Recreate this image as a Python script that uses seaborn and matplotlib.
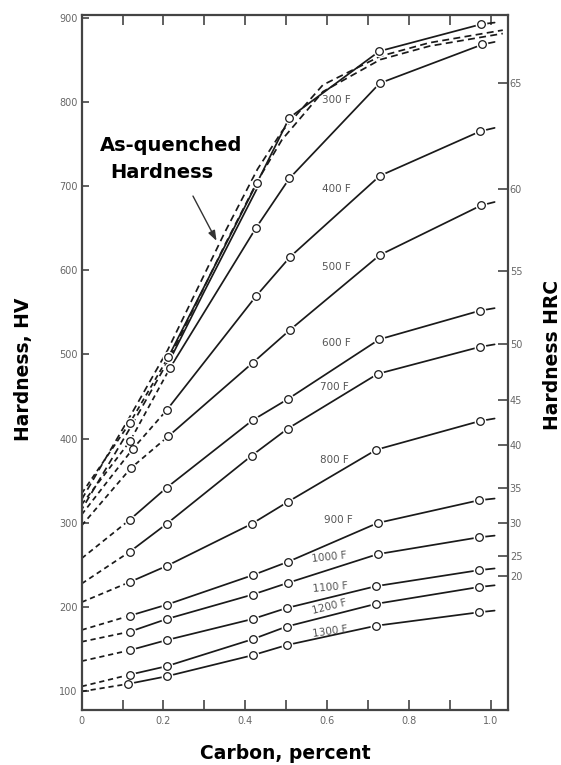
import numpy as np
import pandas as pd
import matplotlib
matplotlib.use("Agg")
import matplotlib.pyplot as plt
import seaborn as sns

# ---------------- data ----------------
curve_names = ["As-quenched", "300 F", "400 F", "500 F", "600 F", "700 F",
               "800 F", "900 F", "1000 F", "1100 F", "1200 F", "1300 F"]

carbon_pts = [
    [0.118, 0.212, 0.428, 0.508, 0.728, 0.977],
    [0.118, 0.216, 0.426, 0.508, 0.729, 0.980],
    [0.125, 0.208, 0.426, 0.510, 0.729, 0.975],
    [0.120, 0.212, 0.418, 0.509, 0.729, 0.977],
    [0.118, 0.208, 0.418, 0.504, 0.728, 0.974],
    [0.118, 0.208, 0.416, 0.504, 0.724, 0.974],
    [0.118, 0.208, 0.416, 0.504, 0.721, 0.974],
    [0.118, 0.208, 0.418, 0.505, 0.724, 0.972],
    [0.118, 0.208, 0.418, 0.505, 0.724, 0.972],
    [0.118, 0.208, 0.418, 0.501, 0.720, 0.972],
    [0.118, 0.208, 0.418, 0.501, 0.720, 0.972],
    [0.114, 0.208, 0.418, 0.501, 0.720, 0.972],
]
hv_pts = [
    [419, 497, 703, 781, 860, 892],
    [397, 484, 650, 709, 822, 868],
    [388, 434, 569, 616, 712, 765],
    [365, 403, 490, 529, 618, 677],
    [304, 342, 422, 447, 518, 552],
    [266, 299, 380, 412, 477, 509],
    [230, 249, 299, 325, 387, 421],
    [190, 203, 238, 254, 300, 327],
    [171, 186, 215, 229, 263, 283],
    [149, 161, 186, 199, 225, 244],
    [120, 130, 162, 177, 204, 224],
    [109, 118, 143, 155, 178, 194],
]
hv_at_zero = [335, 322, 310, 297, 258, 228, 206, 173, 159, 136, 106, 100]
hv_at_end = [894, 871, 769, 681, 555, 512, 424, 329, 285, 246, 226, 196]
carbon_end = 1.01

# extra as-quenched curves (no data circles)
aq_dash_carbon = [0.0, 0.12, 0.21, 0.35, 0.43, 0.49, 0.59, 0.73, 0.85, 1.03]
aq_dash_a_hv = [328, 428, 505, 645, 720, 765, 820, 854, 870, 885]
aq_dash_b_hv = [316, 414, 491, 630, 706, 755, 812, 850, 866, 881]
aq_solid_carbon = [0.21, 0.30, 0.43]
aq_solid_hv = [488, 575, 698]

hv_ticks = [100, 200, 300, 400, 500, 600, 700, 800, 900]
carbon_ticks = [0.0, 0.1, 0.2, 0.3, 0.4, 0.5, 0.6, 0.7, 0.8, 0.9, 1.0]
carbon_ticklabels = ["0", "", "0.2", "", "0.4", "", "0.6", "", "0.8", "", "1.0"]
hrc_labels = ["65", "60", "55", "50", "45", "40", "35", "30", "25", "20"]
hrc_as_hv = [822, 696, 599, 513, 446, 393, 342, 300, 261, 237]

# ---------------- layout / style ----------------
label_xy = [None, (0.623, 802), (0.623, 696), (0.623, 604), (0.623, 514),
            (0.619, 462), (0.619, 375), (0.627, 303), (0.605, 259),
            (0.607, 224), (0.607, 201), (0.607, 171)]
label_rot = [0, 0, 0, 0, 0, 0, 0, 0, 6, 5, 14, 8]
n_dashed_segments = [2, 2, 2, 2, 1, 1, 1, 1, 1, 1, 1, 1]

sns.set_theme(style="white")
plt.rcParams["font.family"] = ["DejaVu Sans"]
ink = "#1a1a1a"
grey = "#666666"
lw = 1.25
dash = (0, (3.0, 2.2))

fig = plt.figure(figsize=(5.61, 7.65), dpi=100)
ax = fig.add_axes([81.7 / 561, 1 - 710 / 765, (507.7 - 81.7) / 561, (710 - 15) / 765])

for i, name in enumerate(curve_names):
    xs = [0.0] + carbon_pts[i] + [carbon_end]
    ys = [hv_at_zero[i]] + hv_pts[i] + [hv_at_end[i]]
    k = n_dashed_segments[i]
    sns.lineplot(x=xs[:k + 1], y=ys[:k + 1], ax=ax, color=ink, lw=lw,
                 linestyle=dash, estimator=None, sort=False, zorder=2)
    sns.lineplot(x=xs[k:], y=ys[k:], ax=ax, color=ink, lw=lw,
                 estimator=None, sort=False, zorder=2)

sns.lineplot(x=aq_dash_carbon, y=aq_dash_a_hv, ax=ax, color=ink, lw=lw,
             linestyle=(0, (4, 2.5)), estimator=None, sort=False, zorder=2)
sns.lineplot(x=aq_dash_carbon, y=aq_dash_b_hv, ax=ax, color=ink, lw=lw,
             linestyle=(2, (4, 2.5)), estimator=None, sort=False, zorder=2)
sns.lineplot(x=aq_solid_carbon, y=aq_solid_hv, ax=ax, color=ink, lw=lw,
             estimator=None, sort=False, zorder=2)

pts = pd.DataFrame({
    "carbon": [c for row in carbon_pts for c in row],
    "hv": [h for row in hv_pts for h in row],
})
# white halo leaving a gap in the lines around each circle
sns.scatterplot(data=pts, x="carbon", y="hv", ax=ax, s=72, color="white",
                edgecolor="white", linewidth=0, zorder=3)
sns.scatterplot(data=pts, x="carbon", y="hv", ax=ax, s=30, color="white",
                edgecolor=ink, linewidth=0.9, zorder=4)

for i, name in enumerate(curve_names):
    if label_xy[i] is None:
        continue
    ax.text(label_xy[i][0], label_xy[i][1], name, fontsize=7.5, color="#555555",
            ha="center", va="center", rotation=label_rot[i], zorder=5)

ax.text(0.218, 742, "As-quenched", fontsize=14, fontweight="bold", color="black",
        ha="center", va="baseline", zorder=6)
ax.text(0.197, 709, "Hardness", fontsize=14, fontweight="bold", color="black",
        ha="center", va="baseline", zorder=6)
ax.annotate("", xy=(0.333, 632), xytext=(0.269, 691),
            arrowprops=dict(arrowstyle="-|>,head_length=0.5,head_width=0.18",
                            color="#333333", lw=1.0), zorder=6)

ax.set_xlim(0, 1.042)
ax.set_ylim(78, 903)
ax.set_xticks(carbon_ticks)
ax.set_xticklabels(carbon_ticklabels)
ax.set_yticks(hv_ticks)
ax.set_yticklabels([str(v) for v in hv_ticks])
ax.tick_params(axis="x", direction="in", length=7, width=1.2, color="#444444",
               top=True, bottom=True, labelsize=7, labelcolor=grey, pad=4)
ax.tick_params(axis="y", direction="in", length=5, width=1.2, color="#444444",
               left=True, right=False, labelsize=7, labelcolor=grey, pad=3)
ax.set_xlabel("")
ax.set_ylabel("")
for sp in ax.spines.values():
    sp.set_color("#444444")
    sp.set_linewidth(1.6)

ax2 = ax.twinx()
ax2.set_ylim(ax.get_ylim())
ax2.set_yticks(hrc_as_hv)
ax2.set_yticklabels(hrc_labels)
ax2.tick_params(axis="y", direction="in", length=7, width=1.2, color="#444444",
                labelsize=7, labelcolor=grey, pad=1.5)
ax2.set_ylabel("")
for sp in ax2.spines.values():
    sp.set_visible(False)

fig.text(24 / 561, 1 - 369 / 765, "Hardness, HV", rotation=90, ha="center",
         va="center", fontsize=13.5, fontweight="bold", color="black")
fig.text(553 / 561, 1 - 354.5 / 765, "Hardness HRC", rotation=90, ha="center",
         va="center", fontsize=13.5, fontweight="bold", color="black")
fig.text(285.5 / 561, 1 - 759 / 765, "Carbon, percent", ha="center",
         va="baseline", fontsize=13.5, fontweight="bold", color="black")

fig.savefig("out.png", dpi=100)
